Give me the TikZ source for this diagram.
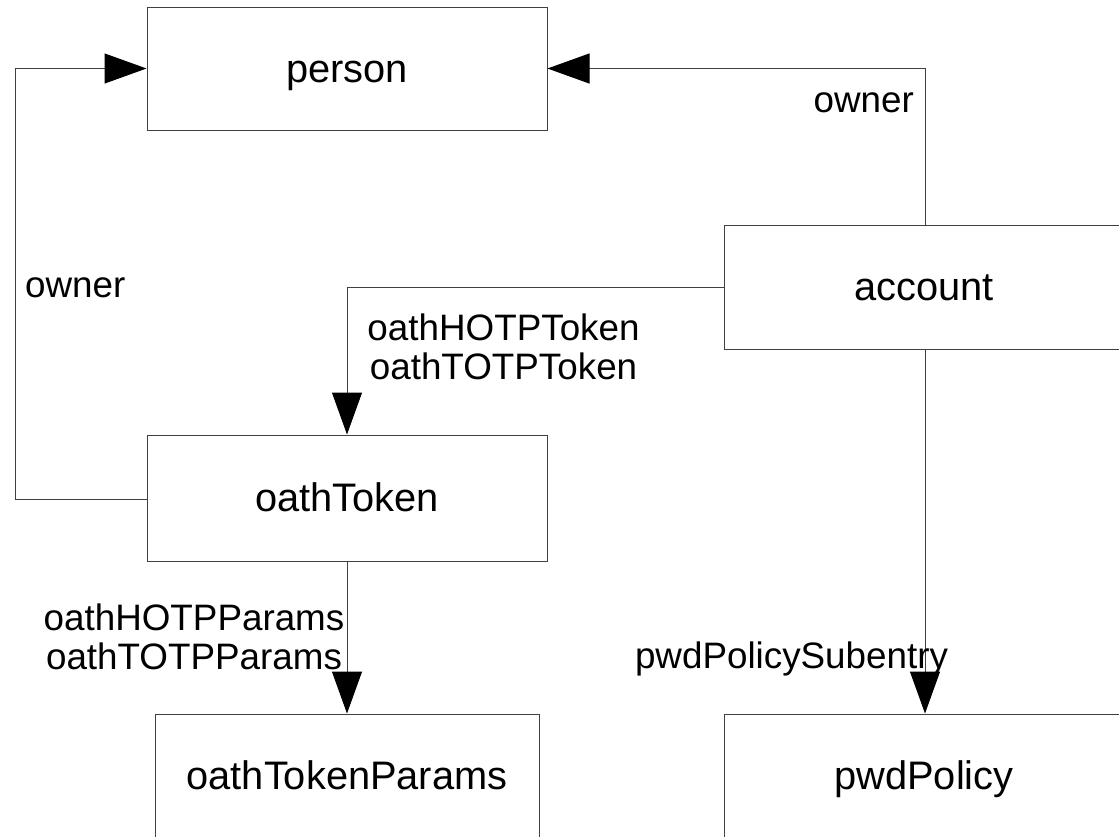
\documentclass[tikz,border=0pt]{standalone}
\usepackage{fontspec}
\setmainfont{Liberation Sans}
\usetikzlibrary{arrows.meta}
\begin{document}
\begin{tikzpicture}[x=1pt,y=-1pt,
  box/.style={draw=black!75, line width=1pt, fill=white, inner sep=0pt,
    minimum width=400pt, minimum height=124pt,
    font=\fontsize{39.8}{44}\selectfont, text height=36pt, text depth=8.4pt},
  lbl/.style={inner sep=0pt, font=\fontsize{36.8}{38.5}\selectfont, align=center},
  conn/.style={draw=black!75, line width=1pt},
  arr/.style={conn, -{Triangle[length=42pt,width=30pt,color=black]}}]
\useasboundingbox (0,0) rectangle (1119,836);
\clip (0,0) rectangle (1119,836);
% boxes
\node[box, minimum height=123pt] (person) at (347,68.5) {person};
\node[box] (account) at (924,287) {account};
\node[box, minimum height=126pt] (oathToken) at (347,498) {oathToken};
\node[box, minimum width=384pt] (params) at (347,776) {oathTokenParams};
\node[box] (policy) at (924,776) {pwdPolicy};
% helper coordinates
\coordinate (lo) at (15,499);
\coordinate (ro) at (925,68.5);
\coordinate (tk) at (347,287);
% connectors
\draw[arr] (oathToken.west |- lo) -- (lo) -- (lo |- person.west) -- (person.west);
\draw[arr] (account.north -| ro) -- (ro) -- (person.east);
\draw[arr] (account.west) -- (tk) -- (oathToken.north);
\draw[arr] (oathToken.south) -- (params.north);
\draw[arr] (account.south -| ro) -- (policy.north -| ro);
% labels
\node[lbl, anchor=base west] (l1) at (25,297) {owner};
\node[lbl, anchor=base east] (l2) at (914,112) {owner};
\node[lbl, anchor=base] (l3) at (503.5,379) {oathHOTPToken\\oathTOTPToken};
\node[lbl, anchor=base] (l4) at (194,669) {oathHOTPParams\\oathTOTPParams};
\node[lbl, anchor=base] (l5) at (791.5,668) {pwdPolicySubentry};
\end{tikzpicture}
\end{document}
